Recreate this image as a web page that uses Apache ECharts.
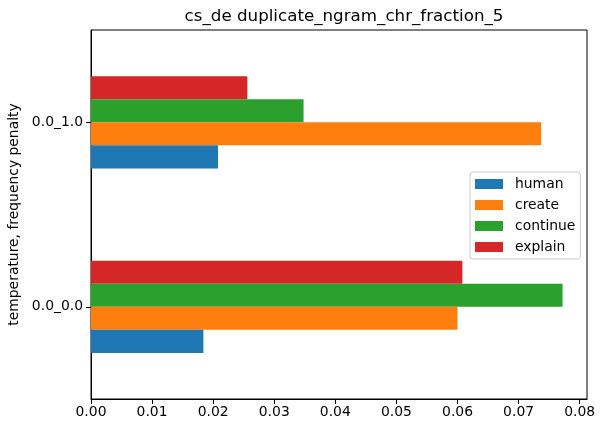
<!DOCTYPE html>
<html>
<head>
<meta charset="utf-8">
<script src="https://cdn.jsdelivr.net/npm/echarts@6/dist/echarts.min.js"></script>
<style>
  html, body { margin: 0; padding: 0; background: #fff; }
  #chart { width: 605px; height: 433px; }
</style>
</head>
<body>
<div id="chart"></div>
<script>
// categories, bottom to top
const categories = ['0.0_0.0', '0.0_1.0'];
const seriesNames = ['human', 'create', 'continue', 'explain'];
const human = [0.0184, 0.0208];
const create = [0.0600, 0.0737];
const cont = [0.0772, 0.0348];
const explain = [0.0608, 0.0256];
const xTicks = [0, 0.01, 0.02, 0.03, 0.04, 0.05, 0.06, 0.07, 0.08];

const colors = ['#1f77b4', '#ff7f0e', '#2ca02c', '#d62728'];
const values = [human, create, cont, explain];
const font = 'DejaVu Sans';

const chart = echarts.init(document.getElementById('chart'), null, {renderer: 'canvas'});

// echarts puts the first bar series at the top of a horizontal group,
// matplotlib puts it at the bottom, so feed them in reverse
const order = [3, 2, 1, 0];

const option = {
    backgroundColor: '#ffffff',
    animation: false,
    title: {
        text: 'cs_de duplicate_ngram_chr_fraction_5',
        left: 339,
        top: 3,
        textAlign: 'center',
        textStyle: {fontFamily: font, fontSize: 16.7, fontWeight: 'normal', color: '#000'}
    },
    legend: {
        orient: 'vertical',
        left: 470,
        top: 172,
        itemWidth: 28,
        itemHeight: 10,
        itemGap: 7,
        padding: [5, 5, 5, 5],
        borderColor: '#cccccc',
        borderWidth: 1,
        borderRadius: 3,
        backgroundColor: 'rgba(255,255,255,0.8)',
        textStyle: {fontFamily: font, fontSize: 13.9, color: '#000', padding: [0, 0, 0, 7]},
        data: seriesNames.map(function (n) { return {name: n, icon: 'rect'}; })
    },
    grid: {
        left: 91,
        top: 30,
        right: 18,
        bottom: 34,
        show: true,
        borderColor: '#000',
        borderWidth: 1,
        containLabel: false,
        outerBoundsMode: 'none'
    },
    xAxis: {
        type: 'value',
        min: 0,
        max: 0.0812,
        interval: 0.01,
        splitLine: {show: false},
        axisLine: {show: true, lineStyle: {color: '#000'}},
        axisTick: {show: true, length: 5, lineStyle: {color: '#000'}},
        axisLabel: {
            showMaxLabel: false,
            fontFamily: font, fontSize: 13.9, color: '#000', margin: 6,
            formatter: function (v) {
                return xTicks.some(function (t) { return Math.abs(t - v) < 1e-9; }) ? v.toFixed(2) : '';
            }
        }
    },
    yAxis: {
        type: 'category',
        data: categories,
        name: 'temperature, frequency penalty',
        nameLocation: 'middle',
        nameGap: 67,
        nameTextStyle: {fontFamily: font, fontSize: 13.9, color: '#000'},
        axisLine: {show: true, lineStyle: {color: '#000'}},
        axisTick: {show: true, alignWithLabel: true, length: 5, lineStyle: {color: '#000'}},
        axisLabel: {fontFamily: font, fontSize: 13.9, color: '#000', margin: 8}
    },
    series: order.map(function (i) {
        return {
            name: seriesNames[i],
            type: 'bar',
            data: values[i],
            barGap: '0%',
            barCategoryGap: '50%',
            itemStyle: {color: colors[i]}
        };
    })
};

chart.setOption(option);
</script>
</body>
</html>
